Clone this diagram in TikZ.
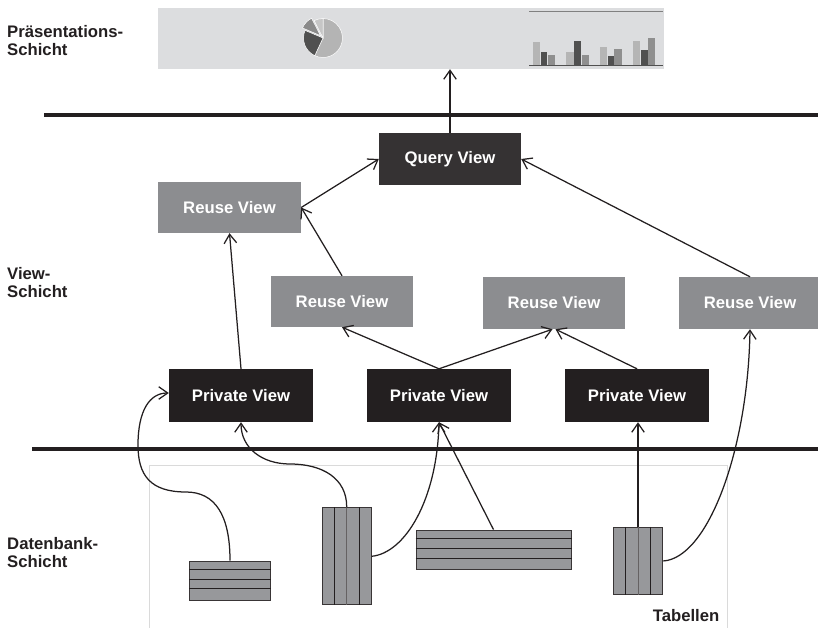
\documentclass[tikz,border=0pt]{standalone}
\usepackage{fontspec}
\setmainfont{Liberation Sans}
\usetikzlibrary{arrows.meta,calc}
\definecolor{presbg}{HTML}{DCDDDF}
\definecolor{reusec}{HTML}{8C8D90}
\definecolor{privc}{HTML}{231F20}
\definecolor{queryc}{HTML}{353233}
\definecolor{tabc}{HTML}{97989B}
\definecolor{linec}{HTML}{231F20}
\definecolor{framec}{HTML}{DADADA}
\definecolor{pieA}{HTML}{B4B4B4}
\definecolor{pieB}{HTML}{505050}
\definecolor{pieC}{HTML}{8A8A8A}
\definecolor{pieD}{HTML}{C6C6C6}
\definecolor{barL}{HTML}{B5B5B5}
\definecolor{barD}{HTML}{505050}
\definecolor{barM}{HTML}{8F8F8F}
\begin{document}
\begin{tikzpicture}[x=1pt,y=-1pt,
  txt/.style={font=\bfseries\fontsize{16.7}{17.8}\selectfont},
  lbl/.style={txt, anchor=base west, inner sep=0, text=linec},
  viewbox/.style={txt, text=white, inner sep=0, minimum width=143pt, minimum height=52pt, fill=#1},
  arr/.style={draw=linec, line width=1.25pt, -{Straight Barb[length=9pt,width=12.5pt]}},
  tab/.style={draw=linec!90, line width=1pt, fill=tabc, inner sep=0},
  tline/.style={draw=linec, line width=0.9pt}
]
\useasboundingbox (0,0) rectangle (818,628);

% layer labels
\node[lbl] (lp) at (7,37.3) {\begin{tabular}[t]{@{}l@{}}Präsentations-\\Schicht\end{tabular}};
\node[lbl] (lv) at (7,279.3) {\begin{tabular}[t]{@{}l@{}}View-\\Schicht\end{tabular}};
\node[lbl] (ld) at (7,549.3) {\begin{tabular}[t]{@{}l@{}}Datenbank-\\Schicht\end{tabular}};

% presentation box
\node[fill=presbg, minimum width=506pt, minimum height=61pt, inner sep=0] (pres) at (411,38.5) {};
% pie chart
\begin{scope}[shift={(323,38)}, yscale=-1]
  \filldraw[fill=pieA, draw=white, line width=0.5pt] (0,0) -- (-115:19.5) arc[start angle=-115, end angle=90, radius=19.5] -- cycle;
  \filldraw[fill=pieB, draw=white, line width=0.5pt] (0,0) -- (157:19.5) arc[start angle=157, end angle=245, radius=19.5] -- cycle;
  \filldraw[fill=pieD, draw=white, line width=0.5pt] (0,0) -- (90:19.5) arc[start angle=90, end angle=117, radius=19.5] -- cycle;
  \begin{scope}[shift={(137:3.5)}]
    \filldraw[fill=pieC, draw=white, line width=0.5pt] (0,0) -- (117:19.5) arc[start angle=117, end angle=157, radius=19.5] -- cycle;
  \end{scope}
\end{scope}
% bar chart
\draw[gray, line width=0.9pt] (529,11) -- (663,11);
\fill[barL] (533.1,42) rectangle (540,65.3);
\fill[barD] (540.7,52.3) rectangle (547.3,65.3);
\fill[barM] (547.7,54.7) rectangle (555,65.3);
\fill[barL] (566.4,52) rectangle (573.6,65.3);
\fill[barD] (574.3,41.3) rectangle (581,65.3);
\fill[barM] (581.7,54.7) rectangle (588.5,65.3);
\fill[barL] (599.8,46.7) rectangle (607,65.3);
\fill[barD] (607.7,56) rectangle (613.7,65.3);
\fill[barM] (614.3,49.3) rectangle (621.6,65.3);
\fill[barL] (633.3,41) rectangle (640.2,65.3);
\fill[barD] (641,50.3) rectangle (647.5,65.3);
\fill[barM] (648.3,38.3) rectangle (655,65.3);
\draw[barD, line width=1pt] (529,65.5) -- (663,65.5);

% layer separators
\draw[linec, line width=4pt] (44,115) -- (818,115);
\draw[linec, line width=3.6pt] (32,449) -- (818,449);

% tables frame
\draw[framec, line width=1pt] (149,640) -- (149,465) -- (727,465) -- (727,640);
\node[txt, anchor=base east, inner sep=0, text=linec] (tabl) at (719.5,621.5) {Tabellen};

% view nodes
\node[viewbox=queryc, minimum width=142pt] (qv) at (450,159) {Query View};
\node[viewbox=reusec, minimum height=51pt] (rv1) at (229.5,207.5) {Reuse View};
\node[viewbox=reusec, minimum width=142pt, minimum height=51pt] (rv2) at (342,301.5) {Reuse View};
\node[viewbox=reusec, minimum width=142pt] (rv3) at (554,303) {Reuse View};
\node[viewbox=reusec, minimum width=142pt] (rv4) at (750,303) {Reuse View};
\node[viewbox=privc, minimum width=144pt, minimum height=53pt] (pv1) at (241,395.5) {Private View};
\node[viewbox=privc, minimum width=144pt, minimum height=53pt] (pv2) at (439,395.5) {Private View};
\node[viewbox=privc, minimum width=144pt, minimum height=53pt] (pv3) at (637,395.5) {Private View};

% tables
\node[tab, minimum width=81pt, minimum height=39pt] (t1) at (230,580.5) {};
\node[tab, minimum width=49pt, minimum height=97pt] (t2) at (346.7,556.3) {};
\node[tab, minimum width=155pt, minimum height=39pt] (t3) at (493.5,549.6) {};
\node[tab, minimum width=49.5pt, minimum height=67.5pt] (t4) at (638,561) {};
\foreach \f in {0.22,0.47,0.71}{
  \draw[tline] ($(t1.north west)!\f!(t1.south west)$) -- ($(t1.north east)!\f!(t1.south east)$);
  \draw[tline] ($(t3.north west)!\f!(t3.south west)$) -- ($(t3.north east)!\f!(t3.south east)$);
}
\foreach \f/\c in {0.25/linec,0.5/linec!70,0.75/linec}{
  \draw[tline, draw=\c] ($(t2.north west)!\f!(t2.north east)$) -- ($(t2.south west)!\f!(t2.south east)$);
  \draw[tline, draw=\c] ($(t4.north west)!\f!(t4.north east)$) -- ($(t4.south west)!\f!(t4.south east)$);
}

% connectors in view layer
\draw[arr] (qv.north) -- (qv.north |- pres.south);
\draw[arr] (rv1.east) -- (qv.west);
\draw[arr] (rv4.north) -- (qv.east);
\draw[arr] (rv2.north) -- (rv1.east);
\draw[arr] (pv1.north) -- (rv1.south);
\draw[arr] (pv2.north) -- (rv2.south);
\draw[arr] (pv2.north) -- ([xshift=-1.5pt]rv3.south);
\draw[arr] (pv3.north) -- ([xshift=1.5pt]rv3.south);

% connectors from tables
\draw[arr] (t1.north) .. controls (230,515) and (215,492) .. (186,492)
  .. controls (150,492) and (138,475) .. (138,445)
  .. controls (138,410) and (150,393) .. ([yshift=2.5pt]pv1.west);
\draw[arr] (t2.north) .. controls (347,478) and (322,464) .. (290,464)
  .. controls (262,464) and (241,448) .. (pv1.south);
\draw[arr] (t2.east) .. controls (405,553) and (437,500) .. (pv2.south);
\draw[arr] (t3.north) -- (pv2.south);
\draw[arr] (t4.north) -- (t4.north |- pv3.south);
\draw[arr] (t4.east) .. controls (708,558) and (748,450) .. (rv4.south);
\end{tikzpicture}
\end{document}
